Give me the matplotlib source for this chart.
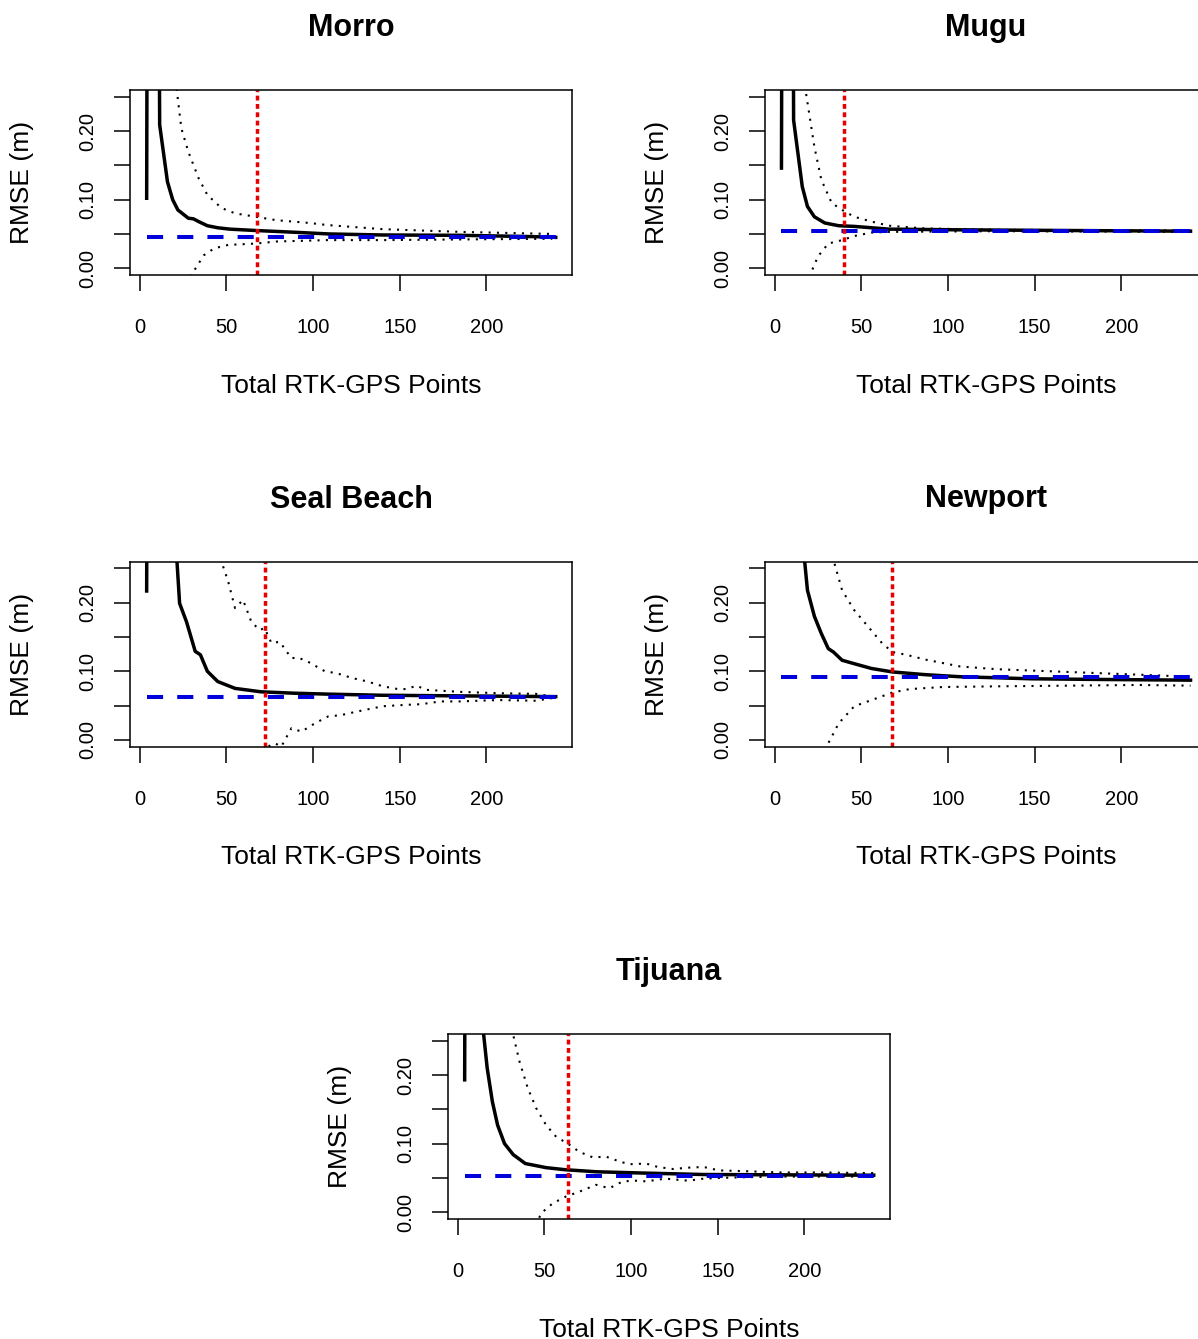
"""RTK-GPS 点数と RMSE の関係 (5 サイト) を描く。"""

import matplotlib

matplotlib.use("Agg")
import matplotlib.pyplot as plt

FIG_W, FIG_H = 1198, 1339

SITES = ["Morro", "Mugu", "Seal Beach", "Newport", "Tijuana"]

# Morro
MORRO_X = [4, 5, 10, 11.5, 16, 19, 22, 28, 31, 34, 39, 45, 52, 67, 89, 109, 140, 185, 229, 240]
MORRO_Y = [0.102, 1.2, 1.0, 0.209, 0.126, 0.100, 0.085, 0.073, 0.072, 0.068, 0.062, 0.059,
           0.057, 0.055, 0.0525, 0.050, 0.0485, 0.048, 0.046, 0.045]
MORRO_UP_X = [19, 24, 28, 34, 39, 47, 55, 67, 79, 98, 108, 140, 185, 238]
MORRO_UP_Y = [0.31, 0.204, 0.170, 0.131, 0.107, 0.088, 0.080, 0.075, 0.070, 0.066, 0.063,
              0.057, 0.053, 0.050]
MORRO_LO_X = [29, 31, 37, 43, 51, 67, 79, 108, 140, 185, 238]
MORRO_LO_Y = [-0.012, -0.005, 0.019, 0.029, 0.034, 0.036, 0.039, 0.041, 0.041, 0.042, 0.043]
MORRO_REF = 0.045
MORRO_CUT = 67.5

# Mugu
MUGU_X = [4, 5, 10, 11, 16, 19, 23, 29, 37, 46, 66, 107, 169, 240]
MUGU_Y = [0.146, 1.2, 1.0, 0.216, 0.119, 0.090, 0.075, 0.066, 0.062, 0.061, 0.057, 0.056,
          0.055, 0.054]
MUGU_UP_X = [16, 23, 27, 33, 39, 46, 56, 66, 87, 128, 240]
MUGU_UP_Y = [0.29, 0.177, 0.129, 0.095, 0.085, 0.075, 0.068, 0.062, 0.058, 0.056, 0.055]
MUGU_LO_X = [20, 21, 25, 31, 39, 46, 56, 66, 128, 240]
MUGU_LO_Y = [-0.013, -0.007, 0.017, 0.036, 0.041, 0.047, 0.052, 0.053, 0.054, 0.053]
MUGU_REF = 0.054
MUGU_CUT = 40

# Seal Beach
SEAL_X = [4, 5, 20, 23, 27, 32, 35, 39, 45, 55, 70, 89, 109, 140, 240]
SEAL_Y = [0.217, 1.2, 0.32, 0.199, 0.172, 0.129, 0.124, 0.100, 0.085, 0.075, 0.070, 0.068,
          0.0666, 0.065, 0.063]
SEAL_UP_X = [45, 51, 55, 59.6, 64.4, 69.2, 72, 76, 80.8, 87.5, 91.3, 97, 106.8, 113.8, 122.7,
             131.5, 140.3, 149, 153.6, 160, 164.6, 184.5, 206.6, 228.7, 238]
SEAL_UP_Y = [0.276, 0.231, 0.192, 0.204, 0.172, 0.160, 0.163, 0.141, 0.143, 0.119, 0.120,
             0.114, 0.100, 0.097, 0.090, 0.085, 0.078, 0.074, 0.074, 0.079, 0.073, 0.070,
             0.068, 0.067, 0.063]
SEAL_LO_X = [72, 74, 78, 81.7, 87.5, 93.3, 101, 108.6, 116, 124.9, 140.3, 153.6, 162.4, 173.5,
             184.5, 206.6, 228.7, 238]
SEAL_LO_Y = [-0.02, -0.0098, -0.005, -0.0098, 0.017, 0.012, 0.024, 0.034, 0.036, 0.041, 0.049,
             0.051, 0.052, 0.056, 0.056, 0.058, 0.057, 0.061]
SEAL_REF = 0.062
SEAL_CUT = 72

# Newport
NEWPORT_X = [4, 17, 19, 23, 27, 31, 34, 39, 46, 56, 68, 87, 107, 148, 189, 240]
NEWPORT_Y = [1.5, 0.27, 0.218, 0.180, 0.155, 0.133, 0.128, 0.116, 0.111, 0.104, 0.099, 0.095,
             0.092, 0.089, 0.088, 0.087]
NEWPORT_UP_X = [32, 39, 46, 54, 62, 68, 76, 87, 107, 128, 169, 210, 240]
NEWPORT_UP_Y = [0.28, 0.218, 0.189, 0.165, 0.141, 0.128, 0.124, 0.117, 0.107, 0.103, 0.099,
                0.095, 0.092]
NEWPORT_LO_X = [29, 31, 37, 46, 56, 68, 78, 97, 128, 169, 210, 240]
NEWPORT_LO_Y = [-0.015, -0.005, 0.024, 0.049, 0.058, 0.069, 0.074, 0.077, 0.078, 0.079, 0.080,
                0.079]
NEWPORT_REF = 0.091
NEWPORT_CUT = 67.5

# Tijuana
TIJUANA_X = [4, 5, 14.5, 17, 20, 23, 27, 32, 39, 51, 62, 80, 109, 142, 240]
TIJUANA_Y = [0.193, 1.2, 0.27, 0.21, 0.161, 0.127, 0.100, 0.084, 0.071, 0.065, 0.062, 0.059,
             0.057, 0.055, 0.054]
TIJUANA_UP_X = [30, 35.6, 40.4, 45.2, 51, 56.8, 63.5, 70.2, 77.9, 85.6, 93.3, 99, 108.7, 115.4,
                124.2, 133, 141.9, 150.7, 164, 186, 208, 240]
TIJUANA_UP_Y = [0.28, 0.22, 0.181, 0.152, 0.127, 0.110, 0.100, 0.088, 0.080, 0.081, 0.074,
                0.070, 0.071, 0.066, 0.063, 0.065, 0.066, 0.061, 0.060, 0.058, 0.058, 0.057]
TIJUANA_LO_X = [47, 48.1, 54.8, 62.5, 70.2, 79.8, 87.5, 95.2, 102.9, 108.7, 119.8, 133, 141.9,
                150.7, 164, 186, 240]
TIJUANA_LO_Y = [-0.008, -0.0015, 0.013, 0.023, 0.030, 0.040, 0.035, 0.045, 0.046, 0.045, 0.049,
                0.046, 0.049, 0.050, 0.051, 0.052, 0.052]
TIJUANA_REF = 0.053
TIJUANA_CUT = 63.5

X_TICKS = [0, 50, 100, 150, 200]
Y_TICKS = [0.0, 0.05, 0.10, 0.15, 0.20, 0.25]
Y_TICK_LABELS = ["0.00", "", "0.10", "", "0.20", ""]

PANELS = [
    (MORRO_X, MORRO_Y, MORRO_UP_X, MORRO_UP_Y, MORRO_LO_X, MORRO_LO_Y, MORRO_REF, MORRO_CUT),
    (MUGU_X, MUGU_Y, MUGU_UP_X, MUGU_UP_Y, MUGU_LO_X, MUGU_LO_Y, MUGU_REF, MUGU_CUT),
    (SEAL_X, SEAL_Y, SEAL_UP_X, SEAL_UP_Y, SEAL_LO_X, SEAL_LO_Y, SEAL_REF, SEAL_CUT),
    (NEWPORT_X, NEWPORT_Y, NEWPORT_UP_X, NEWPORT_UP_Y, NEWPORT_LO_X, NEWPORT_LO_Y,
     NEWPORT_REF, NEWPORT_CUT),
    (TIJUANA_X, TIJUANA_Y, TIJUANA_UP_X, TIJUANA_UP_Y, TIJUANA_LO_X, TIJUANA_LO_Y,
     TIJUANA_REF, TIJUANA_CUT),
]

# 各パネルの箱の左上 (px)
BOX_ORIGINS = [(130.2, 89.9), (765.0, 89.9), (130.2, 561.5), (765.0, 561.5), (448.2, 1033.9)]
BOX_W, BOX_H = 442.0, 185.2

plt.rcParams["font.family"] = ["Liberation Sans", "DejaVu Sans"]

fig = plt.figure(figsize=(FIG_W / 100, FIG_H / 100), dpi=100)

for name, panel, (left, top) in zip(SITES, PANELS, BOX_ORIGINS):
    xs, ys, up_x, up_y, lo_x, lo_y, ref, cut = panel
    ax = fig.add_axes([left / FIG_W, 1 - (top + BOX_H) / FIG_H, BOX_W / FIG_W, BOX_H / FIG_H])

    ax.plot(xs, ys, color="black", lw=2.5, solid_joinstyle="round")
    ax.plot(up_x, up_y, color="black", lw=1.5, linestyle=(0, (1, 3)))
    ax.plot(lo_x, lo_y, color="black", lw=1.5, linestyle=(0, (1, 3)))
    ax.plot([xs[0], xs[-1]], [ref, ref], color="#0000DD", lw=2.9, linestyle=(0, (4, 3.5)))
    ax.axvline(cut, color="#E80000", lw=2.5, linestyle=(0, (1.4, 1.0)))

    ax.set_xlim(-5.5, 249.5)
    ax.set_ylim(-0.01, 0.26)
    ax.set_xticks(X_TICKS)
    ax.set_xticklabels([str(t) for t in X_TICKS])
    ax.set_yticks(Y_TICKS)
    ax.set_yticklabels(Y_TICK_LABELS, rotation=90, va="center")
    ax.tick_params(axis="both", length=11.5, width=1.1, labelsize=14.5, color="black")
    ax.tick_params(axis="x", pad=19.5)
    ax.tick_params(axis="y", pad=12)
    for spine in ax.spines.values():
        spine.set_linewidth(1.1)

    cx = (left + BOX_W / 2) / FIG_W
    fig.text(cx, 1 - (top - 62) / FIG_H, name, ha="center", va="center",
             fontsize=22, fontweight="bold")
    fig.text(cx, 1 - (top + BOX_H + 110.5) / FIG_H, "Total RTK-GPS Points",
             ha="center", va="center", fontsize=19)
    fig.text((left - 108) / FIG_W, 1 - (top + BOX_H / 2) / FIG_H, "RMSE (m)",
             ha="center", va="center", rotation=90, fontsize=19)

fig.savefig("out.png", dpi=100)
